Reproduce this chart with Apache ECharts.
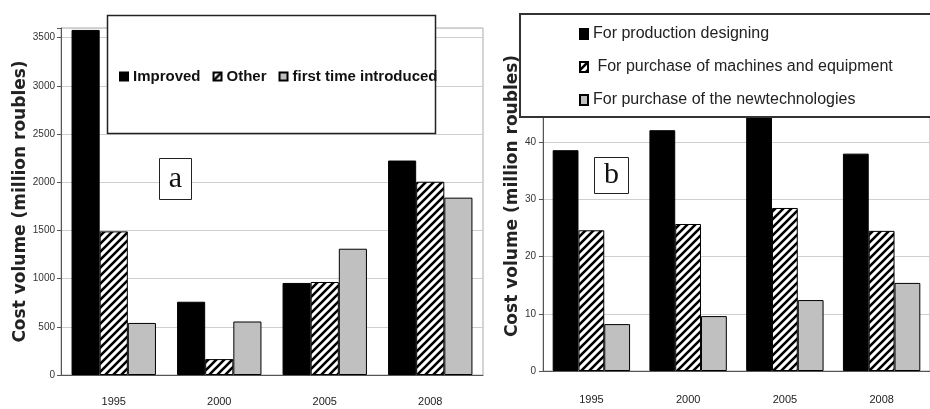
<!DOCTYPE html>
<html>
<head>
<meta charset="utf-8">
<script src="https://cdn.jsdelivr.net/npm/echarts@6/dist/echarts.min.js"></script>
<style>
html,body{margin:0;padding:0;background:#fff;}
#chart{width:930px;height:409px;}
</style>
</head>
<body>
<div id="chart"></div>
<script>
// ---- data ----
var years = ['1995', '2000', '2005', '2008'];

var seriesNamesA = ['Improved', 'Other', 'first time introduced'];
var improvedA = [3580, 760, 955, 2225];
var otherA = [1490, 165, 965, 2005];
var firstTimeA = [540, 555, 1310, 1840];
var ticksA = [0, 500, 1000, 1500, 2000, 2500, 3000, 3500];

var seriesNamesB = ['For production designing', ' For purchase of machines and equipment', 'For purchase of the newtechnologies'];
var designB = [38.6, 42.1, 46, 38.0];
var machinesB = [24.6, 25.7, 28.5, 24.5];
var techB = [8.2, 9.6, 12.4, 15.4];
var ticksB = [0, 10, 20, 30, 40];

var axisTitle = 'Cost volume (million roubles)';

// ---- hatch pattern ----
function makeHatch() {
  var c = document.createElement('canvas');
  c.width = 8; c.height = 8;
  var g = c.getContext('2d');
  g.fillStyle = '#fff';
  g.fillRect(0, 0, 8, 8);
  g.strokeStyle = '#000';
  g.lineWidth = 2.6;
  g.beginPath();
  g.moveTo(-2, 10); g.lineTo(10, -2);
  g.moveTo(-6, 6); g.lineTo(6, -6);
  g.moveTo(2, 14); g.lineTo(14, 2);
  g.stroke();
  return c;
}
var hatch = { image: makeHatch(), repeat: 'repeat' };

var sans = '"Liberation Sans", Arial, sans-serif';
var black = '#000', gray = '#c0c0c0';

function bar(name, data, idx, fill) {
  return {
    name: name, type: 'bar', xAxisIndex: idx, yAxisIndex: idx, data: data,
    barGap: '0%', barCategoryGap: '20%',
    itemStyle: { color: fill, borderColor: '#000', borderWidth: 1 },
    emphasis: { disabled: true }, animation: false
  };
}

function yAx(idx, max, interval, ticks, labelMargin, nameGap, namePad) {
  return {
    type: 'value', gridIndex: idx, min: 0, max: max, interval: interval,
    axisLine: { show: true, lineStyle: { color: '#555', width: 1 } },
    axisTick: { show: true, length: 4, lineStyle: { color: '#555' } },
    splitLine: { show: true, lineStyle: { color: '#cfcfcf', width: 1 } },
    axisLabel: {
      margin: labelMargin, fontSize: 10, color: '#333', fontFamily: sans,
      formatter: function (v) { return ticks.indexOf(v) >= 0 ? String(v) : ''; }
    },
    name: axisTitle, nameLocation: 'middle', nameGap: nameGap, nameRotate: 90,
    nameTextStyle: {
      fontFamily: '"DejaVu Sans", sans-serif', fontWeight: 'bold', fontSize: 17, color: '#222',
      padding: namePad
    }
  };
}

function xAx(idx, margin) {
  return {
    type: 'category', gridIndex: idx, data: years,
    axisLine: { show: true, lineStyle: { color: '#555' } },
    axisTick: { show: false },
    axisLabel: { margin: margin, fontSize: 11, color: '#222', fontFamily: sans }
  };
}

var chart = echarts.init(document.getElementById('chart'), null, { renderer: 'canvas' });
chart.setOption({
  animation: false,
  backgroundColor: '#fff',
  grid: [
    { left: 61, right: 447, top: 28, bottom: 34, show: true, borderColor: '#aaa', borderWidth: 1, backgroundColor: 'transparent' },
    { left: 543, right: -3, top: 85, bottom: 38, show: true, borderColor: '#aaa', borderWidth: 1, backgroundColor: 'transparent' }
  ],
  xAxis: [xAx(0, 21), xAx(1, 23)],
  yAxis: [
    yAx(0, 3600, 500, ticksA, 6, 30, [0, 0, 0, 0]),
    yAx(1, 50, 10, ticksB, 7, 22, [0, 0, 0, 64])
  ],
  legend: [
    {
      data: seriesNamesA, orient: 'horizontal', left: 114, top: 64, z: 10,
      icon: 'rect', itemWidth: 8, itemHeight: 8, itemGap: 12,
      textStyle: { fontFamily: sans, fontWeight: 'bold', fontSize: 15, color: '#111' },
      selectedMode: false
    },
    {
      data: seriesNamesB, orient: 'vertical', left: 574, top: 21, z: 10,
      icon: 'rect', itemWidth: 8, itemHeight: 10, itemGap: 17,
      textStyle: { fontFamily: sans, fontSize: 16, color: '#222' },
      selectedMode: false
    }
  ],
  graphic: [
    { type: 'rect', z: 5, shape: { x: 107.5, y: 15.5, width: 328, height: 118 }, style: { fill: '#fff', stroke: '#222', lineWidth: 1.5 } },
    { type: 'rect', z: 5, shape: { x: 520, y: 14, width: 430, height: 103 }, style: { fill: '#fff', stroke: '#333', lineWidth: 2 } },
    { type: 'rect', z: 5, shape: { x: 159.5, y: 158.5, width: 32, height: 41 }, style: { fill: '#fff', stroke: '#222', lineWidth: 1 } },
    { type: 'text', z: 6, style: { text: 'a', x: 175.5, y: 179, align: 'center', verticalAlign: 'middle', font: '30px "Liberation Serif", "DejaVu Serif", serif', fill: '#111' } },
    { type: 'rect', z: 5, shape: { x: 594.5, y: 157.5, width: 34, height: 36 }, style: { fill: '#fff', stroke: '#222', lineWidth: 1 } },
    { type: 'text', z: 6, style: { text: 'b', x: 611.5, y: 175, align: 'center', verticalAlign: 'middle', font: '30px "Liberation Serif", "DejaVu Serif", serif', fill: '#111' } }
  ],
  series: [
    bar(seriesNamesA[0], improvedA, 0, black),
    bar(seriesNamesA[1], otherA, 0, hatch),
    bar(seriesNamesA[2], firstTimeA, 0, gray),
    bar(seriesNamesB[0], designB, 1, black),
    bar(seriesNamesB[1], machinesB, 1, hatch),
    bar(seriesNamesB[2], techB, 1, gray)
  ]
});
</script>
</body>
</html>
